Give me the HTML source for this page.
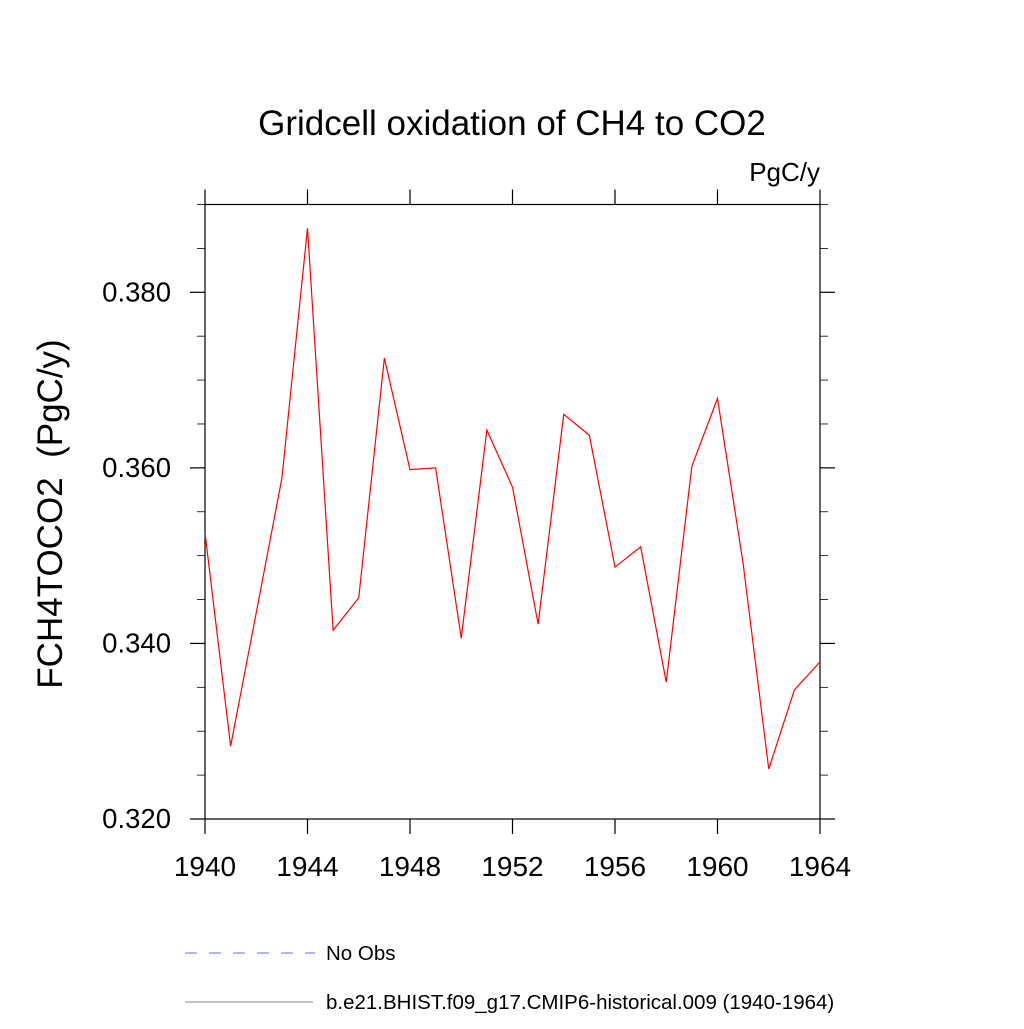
<!DOCTYPE html>
<html><head><meta charset="utf-8"><style>
body{margin:0;background:#fff;}
svg text{font-family:"Liberation Sans",sans-serif;}
</style></head><body>
<svg width="1024" height="1024" xmlns="http://www.w3.org/2000/svg">
<text x="512" y="135" font-size="35" text-anchor="middle">Gridcell oxidation of CH4 to CO2</text>
<text x="820" y="181" font-size="26" text-anchor="end">PgC/y</text>
<text transform="translate(62,514) rotate(-90)" font-size="35" text-anchor="middle" style="white-space:pre">FCH4TOCO2  (PgC/y)</text>
<g id="axes"></g>
<polyline id="series" fill="none" stroke="#ff0000" stroke-width="1.2"/>
<line x1="185" y1="953" x2="315" y2="953" stroke="#6666ff" stroke-width="1" stroke-dasharray="12,12"/>
<text x="326" y="960" font-size="20.5">No Obs</text>
<line x1="185" y1="1002" x2="313" y2="1002" stroke="#888" stroke-width="1"/>
<text x="326" y="1009" font-size="20.5">b.e21.BHIST.f09_g17.CMIP6-historical.009 (1940-1964)</text>
</svg>
<script>
const years=[1940,1941,1942,1943,1944,1945,1946,1947,1948,1949,1950,1951,1952,1953,1954,1955,1956,1957,1958,1959,1960,1961,1962,1963,1964];
const values=[0.3526,0.3283,0.3435,0.3588,0.3873,0.3415,0.3452,0.3725,0.3598,0.3600,0.3406,0.3643,0.3578,0.3422,0.3661,0.3637,0.3487,0.3510,0.3356,0.3602,0.3679,0.3491,0.3257,0.3347,0.3379];
const xTicks=[1940,1944,1948,1952,1956,1960,1964];
const yTicks=[0.320,0.340,0.360,0.380];
const X0=205,X1=820,Y0=819,Y1=204.5,xmin=1940,xmax=1964,ymin=0.32,ymax=0.39;
const xs=v=>X0+(v-xmin)/(xmax-xmin)*(X1-X0);
const ys=v=>Y0-(v-ymin)/(ymax-ymin)*(Y0-Y1);
const NS="http://www.w3.org/2000/svg";
const g=document.getElementById('axes');
function ln(x1,y1,x2,y2,name,w){const l=document.createElementNS(NS,'line');
l.setAttribute('x1',x1);l.setAttribute('y1',y1);l.setAttribute('x2',x2);l.setAttribute('y2',y2);
l.setAttribute('stroke','#000');l.setAttribute('stroke-width',w||1.2);


g.appendChild(l);}
function tx(x,y,s,anchor,name,fs){const t=document.createElementNS(NS,'text');
t.setAttribute('x',x);t.setAttribute('y',y);t.setAttribute('font-size',fs);t.setAttribute('text-anchor',anchor);t.textContent=s;


g.appendChild(t);}
const r=document.createElementNS(NS,'rect');
r.setAttribute('x',X0);r.setAttribute('y',Y1);r.setAttribute('width',X1-X0);r.setAttribute('height',Y0-Y1);
r.setAttribute('fill','none');r.setAttribute('stroke','#000');r.setAttribute('stroke-width','1.2');


g.appendChild(r);
xTicks.forEach(v=>{const x=xs(v);ln(x,Y0,x,Y0+15,'x-tick');ln(x,Y1,x,Y1-15,'x-tick-top');tx(x,876,String(v),'middle','x-tick-label','28');});
for(let v=ymin;v<=ymax+1e-9;v+=0.005){const y=ys(v);const major=Math.abs(Math.round(v*1000)%20)<1;
const len=major?15:8;ln(X0,y,X0-len,y,'y-tick',major?1.2:0.8);ln(X1,y,X1+len,y,'y-tick-right',major?1.2:0.8);}
yTicks.forEach(v=>tx(171,ys(v)+9,v.toFixed(3),'end','y-tick-label','27.5'));
document.getElementById('series').setAttribute('points',years.map((y,i)=>xs(y)+','+ys(values[i])).join(' '));
</script>
</body></html>
